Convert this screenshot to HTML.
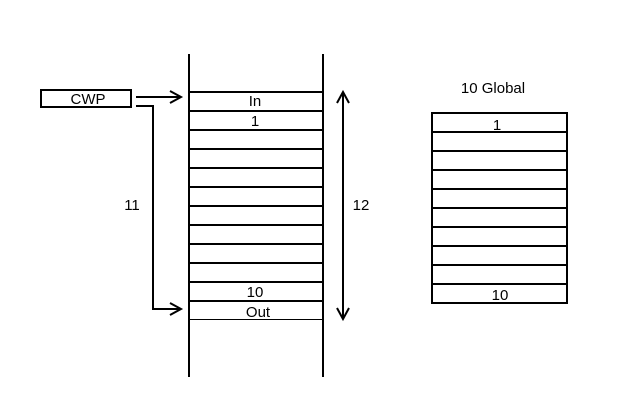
<!DOCTYPE html>
<html><head><meta charset="utf-8"><style>
html,body{margin:0;padding:0;background:#fff;}
svg{display:block;}
text{font-family:"Liberation Sans",sans-serif;font-size:15px;fill:#000;}
</style></head><body>
<svg width="622" height="404" viewBox="0 0 622 404" xmlns="http://www.w3.org/2000/svg">
<g stroke="#000" fill="none">
<line x1="189" y1="54" x2="189" y2="377" stroke-width="2"/>
<line x1="323" y1="54" x2="323" y2="377" stroke-width="2"/>
<g stroke-width="2">
<line x1="189" y1="92" x2="323" y2="92"/>
<line x1="189" y1="111" x2="323" y2="111"/>
<line x1="189" y1="130" x2="323" y2="130"/>
<line x1="189" y1="149" x2="323" y2="149"/>
<line x1="189" y1="168" x2="323" y2="168"/>
<line x1="189" y1="187" x2="323" y2="187"/>
<line x1="189" y1="206" x2="323" y2="206"/>
<line x1="189" y1="225" x2="323" y2="225"/>
<line x1="189" y1="244" x2="323" y2="244"/>
<line x1="189" y1="263" x2="323" y2="263"/>
<line x1="189" y1="282" x2="323" y2="282"/>
<line x1="189" y1="301" x2="323" y2="301"/>
</g>
<line x1="189" y1="319.5" x2="323" y2="319.5" stroke-width="1"/>
<rect x="432" y="113" width="135" height="190" stroke-width="2"/>
<g stroke-width="2">
<line x1="432" y1="132" x2="567" y2="132"/>
<line x1="432" y1="151" x2="567" y2="151"/>
<line x1="432" y1="170" x2="567" y2="170"/>
<line x1="432" y1="189" x2="567" y2="189"/>
<line x1="432" y1="208" x2="567" y2="208"/>
<line x1="432" y1="227" x2="567" y2="227"/>
<line x1="432" y1="246" x2="567" y2="246"/>
<line x1="432" y1="265" x2="567" y2="265"/>
<line x1="432" y1="284" x2="567" y2="284"/>
</g>
<rect x="41" y="90" width="90" height="17" stroke-width="2"/>
<line x1="136" y1="97" x2="181" y2="97" stroke-width="2"/>
<polyline points="170,91 181,97 170,103" stroke-width="2"/>
<polyline points="136,106 153,106 153,309 181,309" stroke-width="2"/>
<polyline points="170,303 181,309 170,315" stroke-width="2"/>
<line x1="343" y1="92" x2="343" y2="319" stroke-width="2"/>
<polyline points="337,103 343,92 349,103" stroke-width="2"/>
<polyline points="337,308 343,319 349,308" stroke-width="2"/>
</g>
<text x="88" y="104" text-anchor="middle">CWP</text>
<text x="255" y="106" text-anchor="middle">In</text>
<text x="255" y="126" text-anchor="middle">1</text>
<text x="255" y="297" text-anchor="middle">10</text>
<text x="258" y="317" text-anchor="middle">Out</text>
<text x="132" y="210" text-anchor="middle">11</text>
<text x="361" y="210" text-anchor="middle">12</text>
<text x="493" y="93" text-anchor="middle">10 Global</text>
<text x="497" y="130" text-anchor="middle">1</text>
<text x="500" y="300" text-anchor="middle">10</text>
</svg>
</body></html>
